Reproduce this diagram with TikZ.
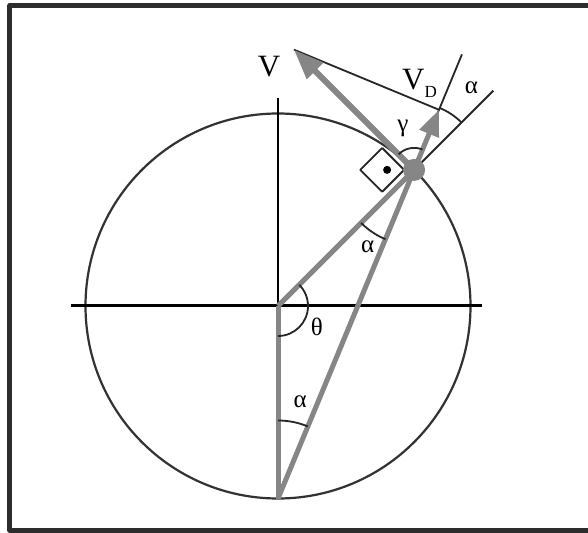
\documentclass[tikz,border=0pt]{standalone}
\usepackage{fontspec}
\setmainfont{Liberation Serif}
\usepackage{xcolor}
\usetikzlibrary{arrows.meta,calc}
\definecolor{vecgrey}{RGB}{134,134,134}
\definecolor{framegrey}{RGB}{45,45,45}
\definecolor{ringgrey}{RGB}{50,50,50}

\begin{document}
\begin{tikzpicture}[x=1pt,y=1pt,line join=round,
  greyline/.style={line width=5pt,draw=vecgrey},
  vecarrow/.style={line width=6pt,draw=vecgrey,fill=vecgrey,-{Triangle[length=30pt,width=22pt]}},
  thinline/.style={line width=1.8pt,draw=black!85},
  anglearc/.style={line width=1.8pt,draw=black!85},
  biglabel/.style={font=\fontsize{31}{31}\selectfont,inner sep=0pt},
  greek/.style={font=\fontsize{25}{25}\selectfont,inner sep=0pt}]
  \useasboundingbox (-278,-226) rectangle (310,306);
  \clip (-278,-226) rectangle (310,306);
  \fill[white] (-278,-226) rectangle (310,306);
  % frame, cut off on the right
  \draw[line width=5pt,draw=framegrey] (330,300.5) -- (-268,300.5) -- (-268,-224) -- (330,-224);
  % points
  \coordinate (O) at (0,0);
  \coordinate (B) at (-90:192.5);
  \coordinate (P) at (45:192.5);
  \coordinate (Xl) at (-207,0);
  \coordinate (Xr) at (204,0);
  \coordinate (Yt) at (0,208);
  \coordinate (Vtip) at ($(P)+(135:170)$);
  \coordinate (Dend) at ($(P)+(67.5:125)$);
  \coordinate (Rend) at ($(P)+(45:112)$);
  \coordinate (VDtip) at ($(P)!(Vtip)!(Dend)$);
  \coordinate (Q) at ($(P)+(180:10)$);
  % circle and axes
  \draw[line width=2.2pt,draw=ringgrey] (O) circle (192.5);
  \draw[line width=3pt] (Xl) -- (Xr);
  \draw[line width=2.5pt] (O) -- (Yt);
  % thin construction lines
  \draw[thinline] (P) -- (Dend);
  \draw[thinline] (P) -- (Rend);
  \draw[thinline] (Vtip) -- (VDtip);
  % right angle mark
  \draw[thinline] ($(Q)+(135:31)$) -- ($(Q)+(180:43.8)$) -- ($(Q)+(225:31)$);
  \draw[thinline] ($(Q)+(135:31)$) -- (Q) -- ($(Q)+(225:31)$);
  \fill ($(P)+(180:27)$) circle (4);
  % grey lines and vectors
  \draw[greyline] (O) -- (B);
  \draw[greyline] (O) -- (P);
  \draw[greyline] (B) -- (P);
  \draw[vecarrow] (P) -- (Vtip);
  \draw[vecarrow,line width=5pt,-{Triangle[length=26pt,width=20pt]}] (P) -- (VDtip);
  \fill[vecgrey] (P) circle (11);
  % angle marks
  \draw[anglearc] ($(O)+(-90:30)$) arc[start angle=-90,end angle=45,radius=30];
  \draw[anglearc] ($(P)+(67.5:22)$) arc[start angle=67.5,end angle=135,radius=22];
  \draw[anglearc] ($(P)+(225:75)$) arc[start angle=225,end angle=247.5,radius=75];
  \draw[anglearc] ($(B)+(67.5:78)$) arc[start angle=67.5,end angle=90,radius=78];
  \draw[anglearc] ($(P)+(45:67)$) arc[start angle=45,end angle=67.5,radius=67];
  % labels
  \node[biglabel] (lV) at (-9,239) {V};
  \node[biglabel,anchor=base west] (lVD) at (124,216) {V\raisebox{-8pt}{\fontsize{17}{17}\selectfont D}};
  \node[greek] (lth) at ($(O)+(-28:44)$) {θ};
  \node[greek] (lga) at ($(P)+(105:43)$) {γ};
  \node[greek] (laP) at ($(P)+(239:90)$) {α};
  \node[greek] (laB) at ($(B)+(77:99)$) {α};
  \node[greek] (laD) at ($(P)+(55:100)$) {α};
\end{tikzpicture}
\end{document}
